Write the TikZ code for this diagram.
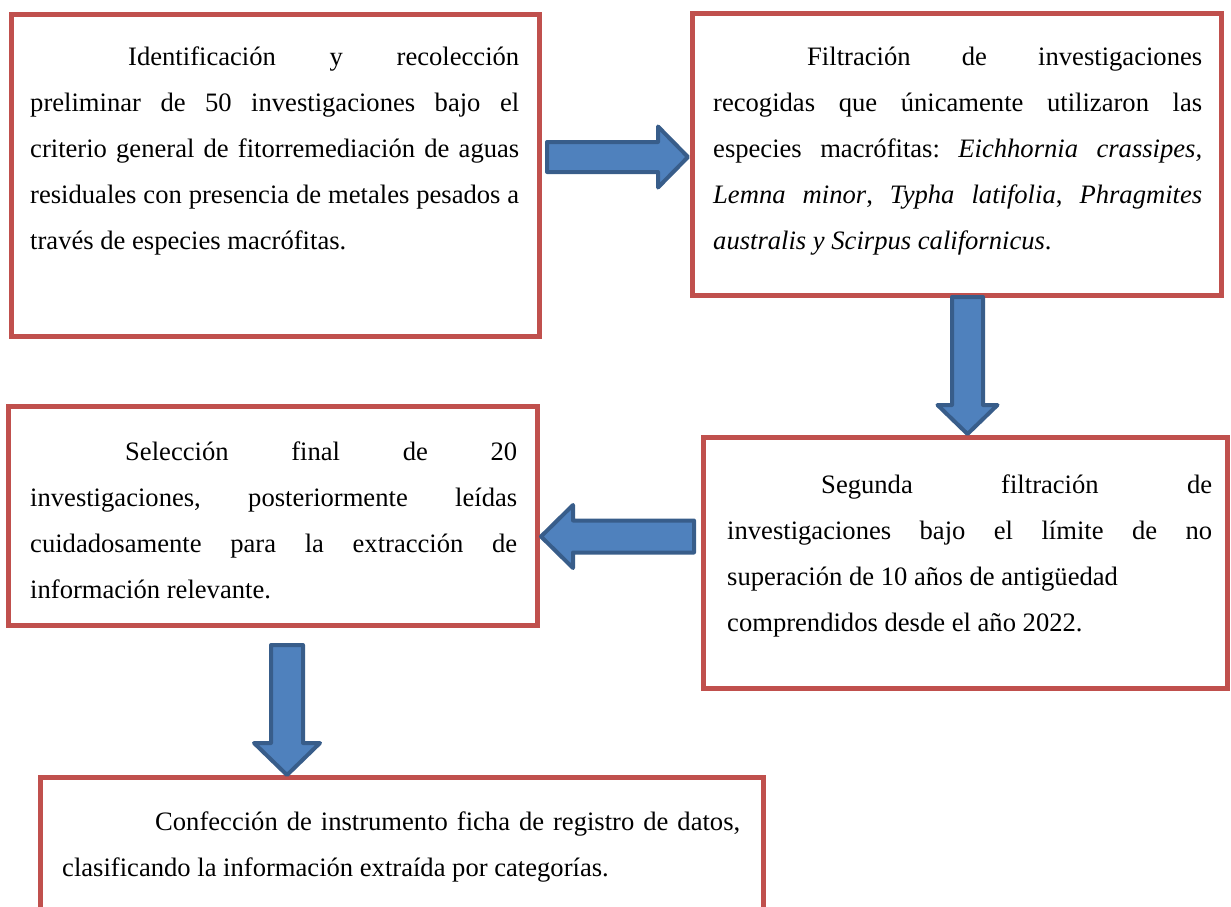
\documentclass[tikz,border=0pt]{standalone}
\usepackage{fontspec}
\setmainfont{Liberation Serif}

\definecolor{boxred}{HTML}{C0504D}
\definecolor{arrowblue}{HTML}{4F81BD}
\definecolor{arrowedge}{HTML}{385D8A}

\tikzset{
  stepbox/.style={draw=boxred,line width=5pt,rectangle,inner sep=0pt,
    outer sep=0pt,anchor=north west},
  bodytext/.style={anchor=north west,inner sep=0pt,text width=#1,
    align=justify,font=\fontsize{26.6}{46}\selectfont\frenchspacing},
  arrowbody/.style={fill=arrowblue,draw=arrowedge,line width=4pt,line join=round}
}

% block arrow: start, angle, length, head length, shaft half width, head half width
\newcommand{\blockarrow}[6]{%
  \draw[arrowbody,shift={(#1)},rotate=#2]
    (0,-#5) -- (#3-#4,-#5) -- (#3-#4,-#6) -- (#3,0) -- (#3-#4,#6)
    -- (#3-#4,#5) -- (0,#5) -- cycle;}

\begin{document}
\begin{tikzpicture}[x=1pt,y=-1pt]
  \useasboundingbox (0,0) rectangle (1231,906);
  \clip (0,0) rectangle (1231,906);

  % boxes
  \node[stepbox,minimum width=528pt,minimum height=322pt] (b1) at (11,14) {};
  \node[stepbox,minimum width=529pt,minimum height=282pt] (b2) at (692,13) {};
  \node[stepbox,minimum width=524pt,minimum height=251pt] (b3) at (703,437) {};
  \node[stepbox,minimum width=529pt,minimum height=219pt] (b4) at (8,406) {};
  \node[stepbox,minimum width=723pt,minimum height=170pt] (b5) at (40,777) {};

  % texts
  \node[bodytext=489pt] (t1) at (30,32.8) {\strut\hspace*{98pt}Identificación y recolección\linebreak
    preliminar de 50 investigaciones bajo el\linebreak
    criterio general de fitorremediación de aguas\linebreak
    residuales con presencia de metales pesados a\linebreak
    través de especies macrófitas.};
  \node[bodytext=489pt] (t2) at (713,32.8) {\strut\hspace*{94pt}Filtración de investigaciones\linebreak
    recogidas que únicamente utilizaron las\linebreak
    especies macrófitas: \textit{Eichhornia crassipes,}\linebreak
    \textit{Lemna minor}, \textit{Typha latifolia}, \textit{Phragmites}\linebreak
    \textit{australis y Scirpus californicus}.};
  \node[bodytext=485pt] (t3) at (727,460.8) {\strut\hspace*{94pt}Segunda filtración de\linebreak
    investigaciones bajo el límite de no\linebreak
    superación de 10 años de antigüedad\newline
    comprendidos desde el año 2022.};
  \node[bodytext=487pt] (t4) at (30,427.8) {\strut\hspace*{95pt}Selección final de 20\linebreak
    investigaciones, posteriormente leídas\linebreak
    cuidadosamente para la extracción de\linebreak
    información relevante.};
  \node[bodytext=678pt] (t5) at (62,797.8) {\strut\hspace*{93pt}Confección de instrumento ficha de registro de datos,\linebreak
    clasificando la información extraída por categorías.};

  % arrows
  \coordinate (a12) at (547,157);
  \coordinate (a23) at (967.5,297);
  \coordinate (a34) at (694,536.5);
  \coordinate (a45) at (287,645);
  \blockarrow{a12}{0}{141}{30}{15}{30.5}
  \blockarrow{a23}{-90}{137}{29}{15.5}{30}
  \blockarrow{a34}{180}{153}{32}{16}{31.5}
  \blockarrow{a45}{-90}{130}{32}{16}{33}
\end{tikzpicture}
\end{document}
